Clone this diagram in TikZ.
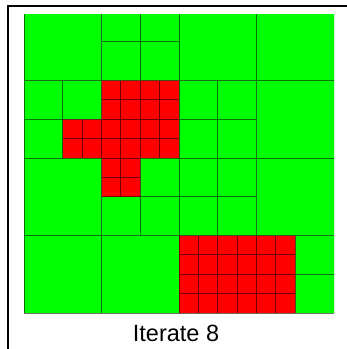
\documentclass[tikz,border=0pt]{standalone}
\usepackage{fontspec}
\setsansfont{Liberation Sans}
\definecolor{cellgreen}{RGB}{0,255,0}
\definecolor{cellred}{RGB}{255,0,0}
\tikzset{
  gridline/.style={draw=black, draw opacity=0.55, line width=0.9pt},
  frameline/.style={draw=black, line width=2pt},
  caption/.style={font=\sffamily\fontsize{23.5}{28}\selectfont, anchor=base, inner sep=0pt}
}
\begin{document}
\begin{tikzpicture}[x=1pt,y=-1pt]
\useasboundingbox (0,0) rectangle (347,349);
\clip (0,0) rectangle (347,349);
\fill[white] (0,0) rectangle (347,349);
% outer frame (runs off the right and bottom edges)
\draw[frameline] (7.5,360) -- (7.5,5.8) -- (360,5.8);
\begin{scope}[xshift=24pt, yshift=-3pt, x=38.75pt, y=-38.75pt]
  \clip (0,0.2839) rectangle (8,8);
  % green 2x2 blocks
  \fill[cellgreen] foreach \c/\r in {0/0,4/0,6/0,6/2,0/4,6/4,0/6,2/6} { (\c,\r) rectangle ++(2,2) };
  % green 1x1 cells
  \fill[cellgreen] foreach \c/\r in {2/0,3/0,2/1,3/1,0/2,1/2,0/3,4/2,5/2,4/3,5/3,3/4,2/5,3/5,4/4,5/4,4/5,5/5,7/6,7/7} { (\c,\r) rectangle ++(1,1) };
  % red refined cells
  \fill[cellred] foreach \c/\r in {1/3,2/2,3/2,2/3,3/3,2/4,4/6,5/6,6/6,4/7,5/7,6/7} { (\c,\r) rectangle ++(1,1) };
  % cell outlines, one path so shared edges are not darkened twice
  \draw[gridline]
    foreach \c/\r in {0/0,4/0,6/0,6/2,0/4,6/4,0/6,2/6} { (\c,\r) rectangle ++(2,2) }
    foreach \c/\r in {2/0,3/0,2/1,3/1,0/2,1/2,0/3,4/2,5/2,4/3,5/3,3/4,2/5,3/5,4/4,5/4,4/5,5/5,7/6,7/7} { (\c,\r) rectangle ++(1,1) }
    foreach \c/\r in {1/3,2/2,3/2,2/3,3/3,2/4,4/6,5/6,6/6,4/7,5/7,6/7} {
      (\c,\r) rectangle ++(0.5,0.5)
      (\c+0.5,\r) rectangle ++(0.5,0.5)
      (\c,\r+0.5) rectangle ++(0.5,0.5)
      (\c+0.5,\r+0.5) rectangle ++(0.5,0.5) };
\end{scope}
\node[caption] (title) at (176,341) {Iterate 8};
\end{tikzpicture}
\end{document}
